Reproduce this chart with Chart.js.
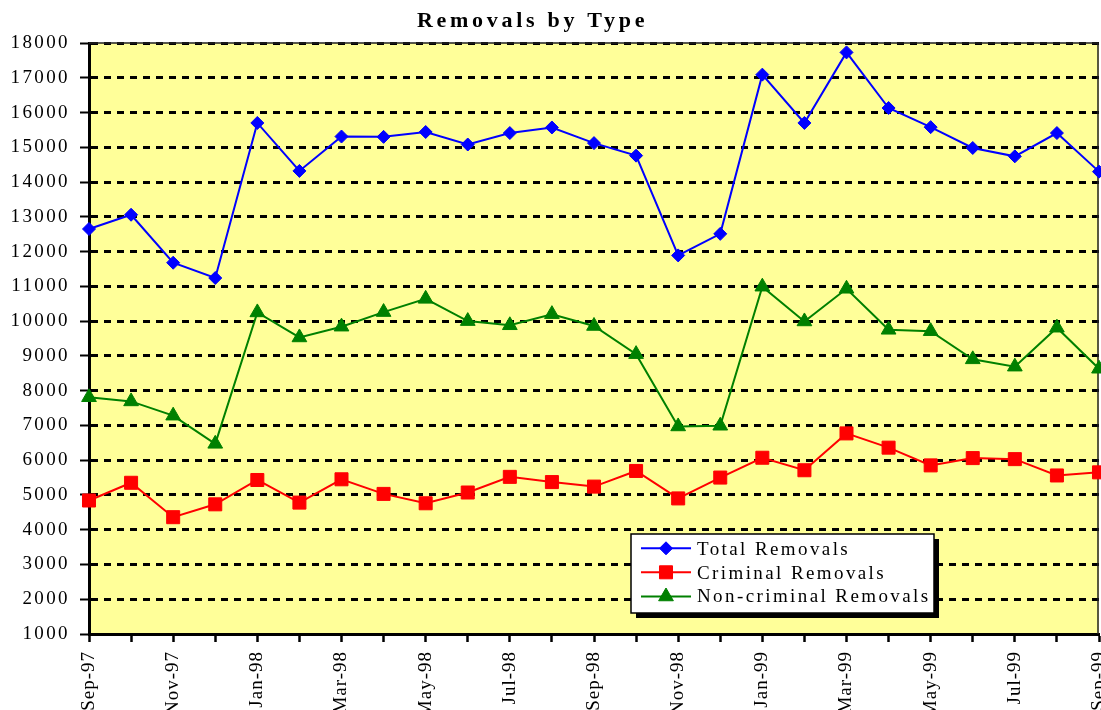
<!DOCTYPE html>
<html>
<head>
<meta charset="utf-8">
<script src="https://cdn.jsdelivr.net/npm/chart.js@4/dist/chart.umd.min.js"></script>
<style>
  html, body { margin: 0; padding: 0; background: #fff; overflow: hidden; }
  #wrap { width: 1101px; height: 710px; position: relative; }
</style>
</head>
<body>
<div id="wrap"><canvas id="c" width="1101" height="710"></canvas></div>
<script>
const chartTitle = 'Removals by Type';
const months = ['Sep-97','Oct-97','Nov-97','Dec-97','Jan-98','Feb-98','Mar-98','Apr-98','May-98','Jun-98','Jul-98','Aug-98','Sep-98','Oct-98','Nov-98','Dec-98','Jan-99','Feb-99','Mar-99','Apr-99','May-99','Jun-99','Jul-99','Aug-99','Sep-99'];
const seriesNames = ['Total Removals', 'Criminal Removals', 'Non-criminal Removals'];
const totalRemovals = [12650, 13060, 11680, 11240, 15700, 14320, 15310, 15300, 15440, 15080, 15410, 15570, 15120, 14760, 11890, 12510, 17090, 15700, 17730, 16130, 15580, 14980, 14740, 15410, 14300];
const criminalRemovals = [4840, 5350, 4360, 4730, 5430, 4780, 5450, 5030, 4760, 5070, 5520, 5370, 5240, 5690, 4900, 5500, 6070, 5710, 6770, 6360, 5850, 6060, 6030, 5560, 5650];
const nonCriminalRemovals = [7810, 7690, 7280, 6470, 10250, 9530, 9840, 10260, 10640, 10000, 9880, 10200, 9860, 9050, 6970, 6990, 10990, 9990, 10930, 9750, 9710, 8900, 8690, 9810, 8630];
const yMin = 1000, yMax = 18000, yStep = 1000;

const FONT = '"Liberation Serif", "Times New Roman", serif';

function patchSpacing(scale, sp) {
  if (scale._spPatched) return;
  const orig = Object.getPrototypeOf(scale).drawLabels;
  scale.drawLabels = function (area) {
    const c = this.ctx;
    c.save();
    c.letterSpacing = sp;
    orig.call(this, area);
    c.restore();
  };
  scale._spPatched = true;
}
function noMargins(scale) {
  scale._handleMargins = function () {};
}

const plotBg = {
  id: 'plotBg',
  beforeDraw(chart) {
    const { ctx, chartArea: a } = chart;
    ctx.save();
    ctx.fillStyle = '#FFFF99';
    ctx.fillRect(a.left, a.top, a.right - a.left, a.bottom - a.top);
    ctx.restore();
  },
  beforeDatasetsDraw(chart) {
    const { ctx, chartArea: a } = chart;
    ctx.save();
    ctx.strokeStyle = '#222';
    ctx.lineWidth = 1.5;
    ctx.beginPath();
    ctx.moveTo(a.left, a.top);
    ctx.lineTo(a.right - 1, a.top);
    ctx.lineTo(a.right - 1, a.bottom);
    ctx.stroke();
    ctx.restore();
  }
};

const titleAndLegend = {
  id: 'titleAndLegend',
  afterDraw(chart) {
    const ctx = chart.ctx;
    ctx.save();
    // title
    ctx.fillStyle = '#000';
    ctx.font = 'bold 22px ' + FONT;
    ctx.letterSpacing = '3.7px';
    ctx.textAlign = 'left';
    ctx.textBaseline = 'alphabetic';
    ctx.fillText(chartTitle, 417, 27);

    // legend box
    const bx = 631, by = 534, bw = 303, bh = 79;
    ctx.letterSpacing = '0px';
    ctx.fillStyle = '#000';
    ctx.fillRect(bx + 5, by + 5, bw, bh);
    ctx.fillStyle = '#fff';
    ctx.fillRect(bx, by, bw, bh);
    ctx.strokeStyle = '#000';
    ctx.lineWidth = 1.5;
    ctx.strokeRect(bx, by, bw, bh);

    const markY = [548.3, 572.3, 596.5];
    const textY = [555, 578.5, 602];
    chart.data.datasets.forEach((ds, i) => {
      ctx.strokeStyle = ds.borderColor;
      ctx.lineWidth = 2;
      ctx.beginPath();
      ctx.moveTo(641, markY[i]);
      ctx.lineTo(691, markY[i]);
      ctx.stroke();
      ctx.fillStyle = ds.pointBackgroundColor;
      ctx.strokeStyle = ds.pointBorderColor;
      ctx.lineWidth = 1;
      Chart.helpers.drawPoint(ctx, { pointStyle: ds.pointStyle, radius: ds.pointRadius, rotation: 0, borderWidth: 1 }, 666, markY[i]);
      ctx.fillStyle = '#000';
      ctx.font = '19px ' + FONT;
      ctx.letterSpacing = '2.4px';
      ctx.textBaseline = 'alphabetic';
      ctx.fillText(ds.label, 697, textY[i]);
      ctx.letterSpacing = '0px';
    });
    ctx.restore();
  }
};

const mkDs = (label, data, color, style, r) => ({
  label, data,
  borderColor: color,
  backgroundColor: color,
  pointBackgroundColor: color,
  pointBorderColor: color,
  pointStyle: style,
  pointRadius: r,
  pointHoverRadius: r,
  pointBorderWidth: 1,
  borderWidth: 2,
  tension: 0,
  clip: false
});

new Chart(document.getElementById('c'), {
  type: 'line',
  data: {
    labels: months,
    datasets: [
      mkDs(seriesNames[0], totalRemovals, '#0000FF', 'rectRot', 6.5),
      mkDs(seriesNames[1], criminalRemovals, '#FF0000', 'rect', 9.2),
      mkDs(seriesNames[2], nonCriminalRemovals, '#008000', 'triangle', 8.5)
    ]
  },
  options: {
    responsive: false,
    devicePixelRatio: 1,
    animation: false,
    layout: { autoPadding: false, padding: { top: 43, right: 2, bottom: 0, left: 0 } },
    plugins: { legend: { display: false }, title: { display: false }, tooltip: { enabled: false } },
    scales: {
      x: {
        type: 'category',
        offset: false,
        grid: { display: true, drawOnChartArea: false, drawTicks: true, tickLength: 8, tickWidth: 2.5, tickColor: '#000' },
        border: { display: true, color: '#000', width: 3 },
        ticks: {
          autoSkip: false, minRotation: 90, maxRotation: 90, padding: 9,
          color: '#000', font: { family: FONT, size: 19 },
          callback: function (v, i) { return i % 2 === 0 ? this.getLabelForValue(v) : ''; }
        },
        beforeFit(scale) { noMargins(scale); },
        afterFit(scale) {
          scale.height = 76; scale.paddingLeft = 0; scale.paddingRight = 0;
          patchSpacing(scale, '1px');
        }
      },
      y: {
        type: 'linear',
        min: yMin, max: yMax,
        grid: { color: '#000', lineWidth: 3, drawTicks: true, tickLength: 9, tickWidth: 2, tickColor: '#000' },
        border: { display: true, color: '#000', width: 3, dash: [7, 6] },
        ticks: {
          stepSize: yStep, padding: 10, color: '#000',
          font: { family: FONT, size: 19 },
          callback: (v) => String(v)
        },
        beforeFit(scale) { noMargins(scale); },
        afterFit(scale) {
          scale.width = 89; scale.paddingTop = 0; scale.paddingBottom = 0;
          patchSpacing(scale, '2.4px');
        }
      }
    }
  },
  plugins: [plotBg, titleAndLegend]
});
</script>
</body>
</html>
